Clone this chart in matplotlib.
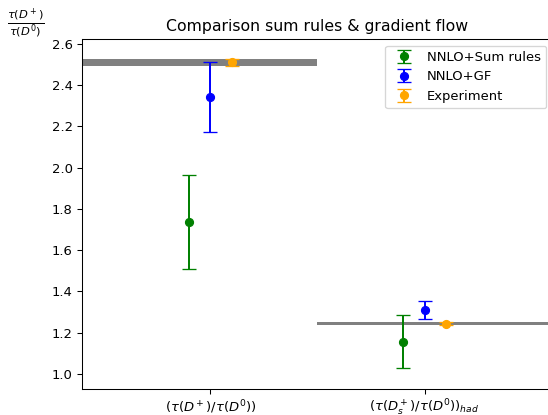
import matplotlib
matplotlib.use("Agg")
import matplotlib.pyplot as plt
import numpy as np

# ratios
categories = [r"$(\tau(D^+)/\tau(D^0))$", r"$(\tau(D_s^+)/\tau(D^0))_{had}$"]
sum_rules = [1.737, 1.157]
sum_rules_err = [0.227, 0.130]
grad_flow = [2.342, 1.310]
grad_flow_err = [0.168, 0.043]
experiment = [2.510, 1.244]
experiment_err = [0.018, 0.009]

DPI = 94.4
fig = plt.figure(figsize=(548 / DPI, 415 / DPI), dpi=DPI)
ax = fig.add_axes([0.1496, 0.0627, 0.8595, 0.8434])

x = np.arange(len(categories))
n = len(categories)

# experimental bands, one per category, spanning its half of the axes
for i, (v, e) in enumerate(zip(experiment, experiment_err)):
    ax.axhspan(v - e, v + e, xmin=i / n, xmax=(i + 1) / n, color="gray", lw=0)

ax.errorbar(x - 0.1, sum_rules, yerr=sum_rules_err, fmt="o", color="green",
            capsize=5, label="NNLO+Sum rules")
ax.errorbar(x, grad_flow, yerr=grad_flow_err, fmt="o", color="blue",
            capsize=5, label="NNLO+GF")
ax.errorbar(x + 0.1, experiment, yerr=experiment_err, fmt="o", color="orange",
            capsize=5, label="Experiment")

ax.set_xticks(x)
ax.set_xticklabels(categories)
ax.set_xlim(-0.6, 1.6)
ax.set_ylim(0.927, 2.624)
ax.set_yticks([1.0, 1.2, 1.4, 1.6, 1.8, 2.0, 2.2, 2.4, 2.6])

ax.set_ylabel(r"$\frac{\tau(D^+)}{\tau(D^0)}$", rotation=0, fontsize=12.5,
              va="center", ha="center")
ax.yaxis.set_label_coords(-0.119, 1.045)
ax.set_title("Comparison sum rules & gradient flow")
ax.legend(loc="upper right")

fig.savefig("out.png", dpi=DPI)
